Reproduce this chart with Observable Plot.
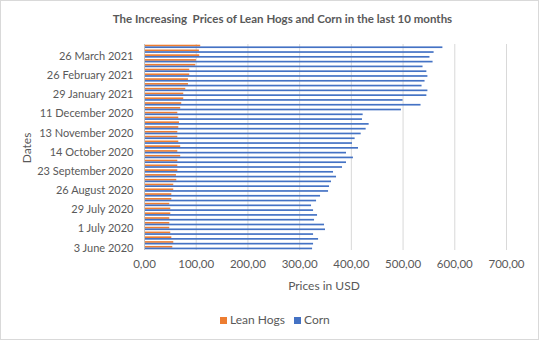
<!DOCTYPE html>
<html><head><meta charset="utf-8">
<script src="https://cdn.jsdelivr.net/npm/d3@7"></script>
<script src="https://cdn.jsdelivr.net/npm/@observablehq/plot@0.6"></script>
<style>
body{margin:0;background:#fff;}
#wrap{position:relative;width:539px;height:340px;overflow:hidden;font-family:Lato,"Liberation Sans",sans-serif;color:#595959;background:#fff;}
#frame{position:absolute;left:0;top:0;width:539px;height:340px;box-sizing:border-box;border:1px solid #d9d9d9;pointer-events:none;}
#title{position:absolute;left:13px;width:539px;top:10px;text-align:center;font-weight:bold;font-size:11.5px;line-height:18px;white-space:pre;}
#chart{position:absolute;left:0;top:0;}
#chart svg g[aria-label^="y-axis"] text{font-size:11px;}
#ylab{position:absolute;left:27px;top:148px;transform:translate(-50%,-50%) rotate(-90deg);font-size:12px;line-height:14px;white-space:nowrap;}
#xlab{position:absolute;left:324px;top:286px;transform:translate(-50%,-50%);font-size:12px;line-height:14px;white-space:nowrap;}
#legend{position:absolute;top:313px;left:220px;font-size:12px;line-height:14px;white-space:nowrap;display:flex;align-items:center;}
.sw{display:inline-block;width:7px;height:7px;margin-right:3px;}
.item{display:flex;align-items:center;margin-right:9px;}
</style></head>
<body>
<div id="wrap">
  <div id="title">The Increasing  Prices of Lean Hogs and Corn in the last 10 months</div>
  <div id="chart"></div>
  <div id="ylab">Dates</div>
  <div id="xlab">Prices in USD</div>
  <div id="legend"></div>
  <div id="frame"></div>
</div>
<script>
const dates = ["3 June 2020","10 June 2020","17 June 2020","24 June 2020","1 July 2020","8 July 2020","15 July 2020","22 July 2020","29 July 2020","5 August 2020","12 August 2020","19 August 2020","26 August 2020","2 September 2020","9 September 2020","16 September 2020","23 September 2020","28 September 2020","2 October 2020","8 October 2020","14 October 2020","21 October 2020","28 October 2020","6 November 2020","13 November 2020","20 November 2020","27 November 2020","4 December 2020","11 December 2020","18 December 2020","8 January 2021","15 January 2021","29 January 2021","5 February 2021","12 February 2021","19 February 2021","26 February 2021","5 March 2021","12 March 2021","19 March 2021","26 March 2021","1 April 2021","9 April 2021"];
const leanHogs = [54.7,56.6,52.8,50.8,48.9,48.9,48.9,50.8,50.8,48.9,52.8,52.8,56.6,56.6,62.4,61.8,64.4,64.4,64.4,70.0,64.4,70.0,66.3,64.4,64.4,66.3,67.6,66.3,64.4,70.0,72.0,75.9,75.9,79.8,85.0,85.0,87.5,87.5,99.1,100.4,106.8,106.2,108.7];
const corn = [325.0,326.9,336.6,326.9,350.0,348.1,328.8,334.6,326.9,323.0,332.7,340.4,355.9,357.8,361.6,371.3,365.5,382.9,390.6,404.0,390.6,413.8,402.2,407.3,419.0,428.6,434.4,421.5,422.8,496.8,534.7,500.0,546.0,548.0,536.7,542.5,548.0,546.0,538.6,558.0,552.0,560.0,577.0];
const tickLabels = ["3 June 2020","1 July 2020","29 July 2020","26 August 2020","23 September 2020","14 October 2020","13 November 2020","11 December 2020","29 January 2021","26 February 2021","26 March 2021"];
const xTicks = [0,100,200,300,400,500,600,700];
const seriesNames = ["Lean Hogs","Corn"];
const colors = ["#ED7D31","#4472C4"];

const W = 539, H = 340, mTop = 44, mBottom = 90, mLeft = 144, mRight = 33;
const padInner = 0.3;
const step = (H - mTop - mBottom) / dates.length;
const bw = step * (1 - padInner);
const rows = dates.map((d, i) => ({date: d, hogs: leanHogs[i], corn: corn[i]}));

const chart = Plot.plot({
  width: W, height: H,
  marginTop: mTop, marginBottom: mBottom, marginLeft: mLeft, marginRight: mRight,
  style: {fontFamily: "Lato, 'Liberation Sans', sans-serif", fontSize: "11.5px", color: "#595959", background: "transparent"},
  x: {domain: [0, 700], ticks: xTicks, tickFormat: d => d3.format(".2f")(d).replace(".", ","), tickSize: 0, tickPadding: 9, label: null},
  y: {domain: dates.slice().reverse(), paddingInner: padInner, paddingOuter: padInner / 2, ticks: tickLabels, tickSize: 0, tickPadding: 11, label: null},
  marks: [
    Plot.ruleX(xTicks.slice(1), {stroke: "#d9d9d9", strokeWidth: 1}),
    Plot.barX(rows, {y: "date", x: "hogs", fill: colors[0], insetBottom: bw / 2}),
    Plot.barX(rows, {y: "date", x: "corn", fill: colors[1], insetTop: bw / 2}),
    Plot.ruleX([0], {stroke: "#bfbfbf", strokeWidth: 1})
  ]
});
document.getElementById("chart").appendChild(chart);

const leg = document.getElementById("legend");
seriesNames.forEach((s, i) => {
  const it = document.createElement("span");
  it.className = "item";
  it.innerHTML = `<span class="sw" style="background:${colors[i]}"></span>${s}`;
  leg.appendChild(it);
});
</script>
</body></html>
